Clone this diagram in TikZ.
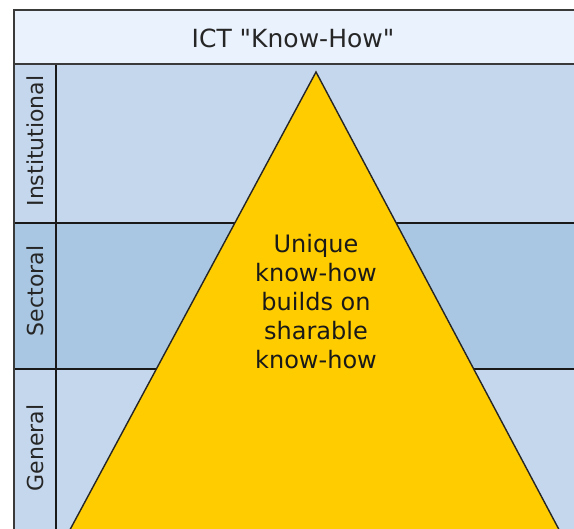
\documentclass[tikz,border=0pt]{standalone}
\usepackage{fontspec}
\setmainfont{DejaVu Sans}
\definecolor{headfill}{HTML}{EAF2FE}
\definecolor{rowlight}{HTML}{C5D7EC}
\definecolor{rowdark}{HTML}{A9C7E2}
\definecolor{pyramid}{HTML}{FFCC00}
\definecolor{frameline}{HTML}{3A3A3A}
\begin{document}
\begin{tikzpicture}[x=1pt,y=1pt,
  rowlabel/.style={rotate=90,font=\fontsize{22}{26}\selectfont,text=black!85},
  rowline/.style={line width=1.4pt,black!90}]
\useasboundingbox (0,0) rectangle (574,529);
\clip (0,0) rectangle (574,529);

% bands
\fill[headfill] (14,519) rectangle (580,465);
\fill[rowlight] (14,465) rectangle (580,306);
\fill[rowdark] (14,306) rectangle (580,160);
\fill[rowlight] (14,160) rectangle (580,-10);
\draw[rowline] (14,306) -- (580,306);
\draw[rowline] (14,160) -- (580,160);

% pyramid
\draw[fill=pyramid,draw=black!85,line width=1.4pt,line join=miter]
  (316,457) -- (564,-10) -- (65,-10) -- cycle;
\node[align=center,font=\fontsize{24}{29}\selectfont,text=black!90] (know) at (316,227)
  {Unique\\know-how\\builds on\\sharable\\know-how};

% header
\node[font=\fontsize{25}{30}\selectfont,text=black!85] (head) at (293,491)
  {ICT \textquotedbl Know-How\textquotedbl};

% label column
\draw[rowline] (56,465) -- (56,-10);
\node[rowlabel] (inst) at (35,388) {Institutional};
\node[rowlabel] (sect) at (35,238) {Sectoral};
\node[rowlabel] (gen) at (35,81) {General};

% frame
\draw[frameline,line width=2pt] (580,519) -- (14,519) -- (14,-10);
\draw[frameline,line width=2pt] (14,465) -- (580,465);
\end{tikzpicture}
\end{document}
